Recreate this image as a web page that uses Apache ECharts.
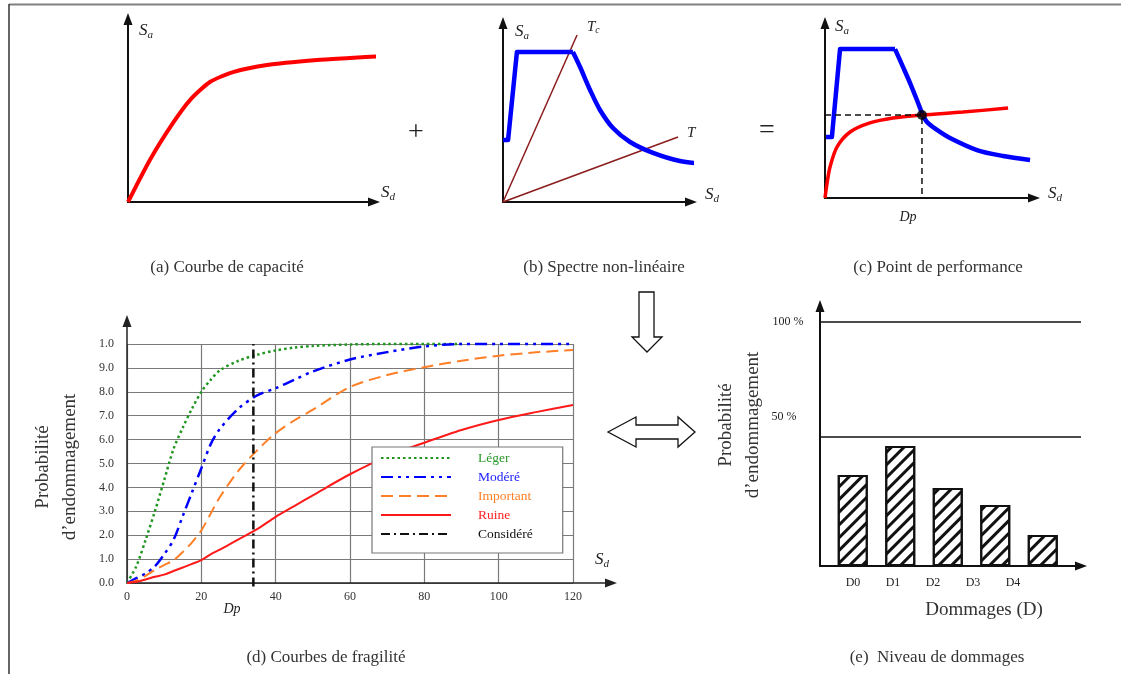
<!DOCTYPE html>
<html>
<head>
<meta charset="utf-8">
<script src="https://cdn.jsdelivr.net/npm/echarts@6/dist/echarts.min.js"></script>
<style>html,body{margin:0;padding:0;background:#fff}#main{width:1121px;height:674px}</style>
</head>
<body>
<div id="main"></div>
<script>
var SERIF = '"Liberation Serif", "DejaVu Serif", serif';

// (a) courbe de capacite (Sd, Sa in % of axis length)
var capSd = [0, 8.9, 18.3, 25.2, 33.3, 42.7, 56.5, 76.8, 90.2, 103.7];
var capSa = [0, 23, 43.2, 55.7, 65.6, 71, 74.9, 77.6, 78.7, 79.8];

// (b) spectre non-lineaire
var specPlateauSd = [0, 2.7, 7.4, 37.2];
var specPlateauSa = [34.6, 34.6, 83.8, 83.8];
var specDecaySd = [37.2, 41, 46.3, 51.6, 58.5, 67.6, 79.8, 94.1, 108.5];
var specDecaySa = [83.8, 75.4, 62.6, 51.4, 41.3, 33.5, 27.4, 22.9, 21.2];
var periodTc = [39.4, 93.3];
var periodT = [93.1, 36.3];

// (c) point de performance
var perfPlateauSd = [0.5, 3.3, 7.2, 33.5];
var perfPlateauSa = [34.9, 34.9, 85.1, 85.1];
var perfDecaySd = [33.5, 37.3, 40.7, 44, 46.4, 48.8, 53.6, 59.8, 72.7, 85.2, 98.1];
var perfDecaySa = [85.1, 74.9, 65.7, 56, 48.6, 43.4, 38.9, 34.3, 27.4, 24, 21.7];
var perfCapSd = [0, 1, 2.4, 5.7, 12, 21.5, 32.5, 46.4, 66, 87.6];
var perfCapSa = [0, 8.6, 17.7, 29.1, 37.7, 42.9, 45.7, 47.4, 49.1, 51.4];
var perfPoint = [46.4, 47.4];

// (d) courbes de fragilite
var fragSd = [0, 2.5, 5, 7.5, 10, 12.5, 15, 17.5, 20, 22.5, 25, 30, 35, 40, 45, 50, 60, 70, 80, 90, 100, 110, 120];
var leger = [0, 0.07, 0.18, 0.3, 0.43, 0.56, 0.65, 0.73, 0.8, 0.85, 0.89, 0.93, 0.955, 0.973, 0.985, 0.992, 0.998, 1, 1, 1, null, null, null];
var modere = [0, 0.02, 0.04, 0.07, 0.12, 0.18, 0.28, 0.38, 0.48, 0.58, 0.645, 0.73, 0.785, 0.815, 0.85, 0.885, 0.935, 0.966, 0.99, 1, 1, 1, 1];
var important = [0, 0.01, 0.03, 0.055, 0.075, 0.095, 0.13, 0.17, 0.22, 0.29, 0.36, 0.47, 0.555, 0.627, 0.68, 0.725, 0.82, 0.87, 0.903, 0.93, 0.951, 0.965, 0.975];
var ruine = [0, 0.005, 0.015, 0.026, 0.035, 0.05, 0.065, 0.08, 0.096, 0.12, 0.14, 0.183, 0.225, 0.277, 0.322, 0.367, 0.455, 0.53, 0.587, 0.64, 0.682, 0.715, 0.745];
var dpValue = 34;
var probTicks = ['0.0', '1.0', '2.0', '3.0', '4.0', '5.0', '6.0', '7.0', '8.0', '9.0', '1.0'];

// (e) niveau de dommages
var damageCats = ['D0', 'D1', 'D2', 'D3', 'D4'];
var damageProb = [37.3, 49.2, 32, 25, 12.7];
var levelLines = [100, 53];
var levelLabels = ['100 %', '50 %'];

function pairs(xs, ys) {
  var out = [];
  for (var i = 0; i < xs.length; i++) {
    if (ys[i] != null) out.push([xs[i], ys[i]]);
  }
  return out;
}

function arrowAxis(grid, max, color, width) {
  return {
    type: 'value', gridIndex: grid, min: 0, max: max,
    axisLine: { show: true, symbol: ['none', 'triangle'], symbolSize: [9, 12],
      lineStyle: { color: color || '#111', width: width || 2 } },
    axisTick: { show: false }, axisLabel: { show: false }, splitLine: { show: false }
  };
}
function hiddenAxis(grid, type, max, data) {
  var ax = {
    type: type, gridIndex: grid,
    axisLine: { show: false }, axisTick: { show: false }, axisLabel: { show: false }, splitLine: { show: false }
  };
  if (type == 'value') { ax.min = 0; ax.max = max; }
  if (data) ax.data = data;
  return ax;
}

function subText(x, y, main, sub, size) {
  size = size || 17;
  return {
    type: 'text', x: x, y: y, silent: true,
    style: {
      text: '{m|' + main + '}{s|' + (sub || '') + '}',
      verticalAlign: 'middle', fill: '#222',
      rich: {
        m: { fontSize: size, fontStyle: 'italic', fontFamily: SERIF, fill: '#222' },
        s: { fontSize: size * 0.65, fontStyle: 'italic', fontFamily: SERIF, fill: '#222', padding: [size * 0.45, 0, 0, 0] }
      }
    }
  };
}
function plainText(x, y, txt, size, extra) {
  var el = {
    type: 'text', x: x, y: y, silent: true,
    style: { text: txt, fontSize: size, fontFamily: SERIF, fill: '#333', align: 'center', verticalAlign: 'middle' }
  };
  if (extra) for (var k in extra) el.style[k] = extra[k];
  return el;
}
function vTitle(x, y, txt) {
  var el = plainText(x, y, txt, 19, { lineHeight: 27 });
  el.rotation = Math.PI / 2;
  return el;
}

var myChart = echarts.init(document.getElementById('main'));

var option = {
  animation: false,
  backgroundColor: '#fff',
  grid: [
    { left: 128, top: 19, width: 246, height: 183 },
    { left: 503, top: 23, width: 188, height: 179 },
    { left: 825, top: 23, width: 209, height: 175 },
    { left: 127, top: 321, width: 484, height: 262 },
    { left: 127, top: 344, width: 446, height: 239 },
    { left: 820, top: 306, width: 261, height: 260 },
    { left: 829, top: 306, width: 237.5, height: 260 },
    { left: 853, top: 306, width: 160, height: 260 }
  ],
  xAxis: [
    arrowAxis(0, 100),
    arrowAxis(1, 100),
    arrowAxis(2, 100),
    arrowAxis(3, 1, '#222', 1.5),
    {
      type: 'value', gridIndex: 4, min: 0, max: 120, interval: 20,
      axisLine: { show: false }, axisTick: { show: false },
      axisLabel: { margin: 8, fontSize: 12, color: '#333', fontFamily: SERIF },
      splitLine: { show: true, lineStyle: { color: '#7a7a7a', width: 1.2 } }
    },
    arrowAxis(5, 1),
    hiddenAxis(6, 'category', null, damageCats),
    {
      type: 'category', gridIndex: 7, data: damageCats, boundaryGap: false,
      axisLine: { show: false }, axisTick: { show: false }, splitLine: { show: false },
      axisLabel: { margin: 11, fontSize: 12, color: '#222', fontFamily: SERIF }
    }
  ],
  yAxis: [
    arrowAxis(0, 100),
    arrowAxis(1, 100),
    arrowAxis(2, 100),
    arrowAxis(3, 1, '#222', 1.5),
    {
      type: 'value', gridIndex: 4, min: 0, max: 1, interval: 0.1,
      axisLine: { show: false }, axisTick: { show: false },
      axisLabel: { margin: 13, fontSize: 12, color: '#333', fontFamily: SERIF,
        formatter: function (v, i) { return probTicks[i]; } },
      splitLine: { show: true, lineStyle: { color: '#7a7a7a', width: 1.2 } }
    },
    arrowAxis(5, 106.6),
    hiddenAxis(6, 'value', 106.6),
    hiddenAxis(7, 'value', 106.6)
  ],
  legend: {
    orient: 'vertical', left: 372, top: 447,
    itemWidth: 70, itemHeight: 10, itemGap: 5,
    padding: [4, 30, 12, 8],
    backgroundColor: '#fff', borderColor: '#777', borderWidth: 1.2,
    selectedMode: false,
    itemStyle: { opacity: 0 },
    textStyle: { fontFamily: SERIF, fontSize: 13.5, padding: [0, 0, 0, 22] },
    data: [
      { name: 'Léger', textStyle: { color: '#2a9a2a' } },
      { name: 'Modéré', textStyle: { color: '#2020ff' } },
      { name: 'Important', textStyle: { color: '#ff7f27' } },
      { name: 'Ruine', textStyle: { color: '#ff2020' } },
      { name: 'Considéré', textStyle: { color: '#111' } }
    ]
  },
  series: [
    // (a)
    { type: 'line', xAxisIndex: 0, yAxisIndex: 0, data: pairs(capSd, capSa), smooth: 0.22,
      symbol: 'none', clip: false, lineStyle: { color: '#ff0000', width: 4 } },
    // (b)
    { type: 'line', xAxisIndex: 1, yAxisIndex: 1, data: pairs([0, periodTc[0]], [0, periodTc[1]]), symbol: 'none',
      clip: false, lineStyle: { color: '#8b1c1c', width: 1.5 } },
    { type: 'line', xAxisIndex: 1, yAxisIndex: 1, data: pairs([0, periodT[0]], [0, periodT[1]]), symbol: 'none',
      clip: false, lineStyle: { color: '#8b1c1c', width: 1.5 } },
    { type: 'line', xAxisIndex: 1, yAxisIndex: 1, data: pairs(specPlateauSd, specPlateauSa), symbol: 'none',
      clip: false, lineStyle: { color: '#0000ff', width: 4.5, join: 'round' } },
    { type: 'line', xAxisIndex: 1, yAxisIndex: 1, data: pairs(specDecaySd, specDecaySa), symbol: 'none', smooth: 0.3,
      clip: false, lineStyle: { color: '#0000ff', width: 4.5 } },
    // (c)
    { type: 'line', xAxisIndex: 2, yAxisIndex: 2, data: pairs(perfPlateauSd, perfPlateauSa), symbol: 'none',
      clip: false, lineStyle: { color: '#0000ff', width: 4.5, join: 'round' } },
    { type: 'line', xAxisIndex: 2, yAxisIndex: 2, data: pairs(perfDecaySd, perfDecaySa), symbol: 'none', smooth: 0.3,
      clip: false, lineStyle: { color: '#0000ff', width: 4.5 } },
    { type: 'line', xAxisIndex: 2, yAxisIndex: 2, data: pairs(perfCapSd, perfCapSa), symbol: 'none', smooth: 0.3,
      clip: false, lineStyle: { color: '#ff0000', width: 3.5 } },
    { type: 'line', xAxisIndex: 2, yAxisIndex: 2,
      data: [[0, perfPoint[1]], perfPoint, [perfPoint[0], 0]], symbol: 'none',
      lineStyle: { color: '#111', width: 1.5, type: [6, 4] } },
    { type: 'scatter', xAxisIndex: 2, yAxisIndex: 2, data: [perfPoint], symbolSize: 10,
      itemStyle: { color: '#000' }, z: 5 },
    // (d)
    { name: 'Léger', type: 'line', xAxisIndex: 4, yAxisIndex: 4, data: pairs(fragSd, leger), symbol: 'none',
      smooth: 0.3, clip: false, color: '#1f961f',
      lineStyle: { color: '#1f961f', width: 2.5, type: [2.5, 3], cap: 'butt' } },
    { name: 'Modéré', type: 'line', xAxisIndex: 4, yAxisIndex: 4, data: pairs(fragSd, modere), symbol: 'none',
      smooth: 0.3, clip: false, color: '#0000ff',
      lineStyle: { color: '#0000ff', width: 2.5, type: [12, 5, 3, 5, 3, 5] } },
    { name: 'Important', type: 'line', xAxisIndex: 4, yAxisIndex: 4, data: pairs(fragSd, important), symbol: 'none',
      smooth: 0.3, clip: false, color: '#ff7f27',
      lineStyle: { color: '#ff7f27', width: 2, type: [12, 6] } },
    { name: 'Ruine', type: 'line', xAxisIndex: 4, yAxisIndex: 4, data: pairs(fragSd, ruine), symbol: 'none',
      smooth: 0.3, clip: false, color: '#ff1a1a',
      lineStyle: { color: '#ff1a1a', width: 2 } },
    { name: 'Considéré', type: 'line', xAxisIndex: 4, yAxisIndex: 4, data: [[dpValue, -0.015], [dpValue, 1]],
      symbol: 'none', clip: false, color: '#111',
      lineStyle: { color: '#111', width: 2.5, type: [9, 4, 2, 4] } },
    // (e)
    { type: 'line', xAxisIndex: 5, yAxisIndex: 5, data: [[0, 0]], symbol: 'none', silent: true,
      markLine: {
        silent: true, symbol: ['none', 'none'], label: { show: false },
        lineStyle: { color: '#111', width: 1.6, type: 'solid' },
        data: levelLines.map(function (v) { return { yAxis: v }; })
      } },
    { type: 'bar', xAxisIndex: 6, yAxisIndex: 6, data: damageProb, barWidth: 30,
      itemStyle: {
        color: '#fff', borderColor: '#111', borderWidth: 2,
        decal: { symbol: 'rect', symbolSize: 1, dashArrayX: [1, 0], dashArrayY: [3, 6],
          rotation: -Math.PI / 4, color: '#111' }
      } }
  ],
  graphic: [
    // frame
    { type: 'line', silent: true, shape: { x1: 9, y1: 4.5, x2: 1121, y2: 4.5 }, style: { stroke: '#808080', lineWidth: 2 } },
    { type: 'line', silent: true, shape: { x1: 9, y1: 4, x2: 9, y2: 674 }, style: { stroke: '#333', lineWidth: 1.5 } },
    // operators
    plainText(416, 133, '+', 28, { fill: '#222' }),
    plainText(767, 131, '=', 28, { fill: '#222' }),
    // axis labels
    subText(139, 31, 'S', 'a'),
    subText(381, 193, 'S', 'd'),
    subText(515, 32, 'S', 'a'),
    subText(587, 27, 'T', 'c', 15),
    subText(687, 133, 'T', '', 15),
    subText(705, 195, 'S', 'd'),
    subText(835, 27, 'S', 'a'),
    subText(1048, 194, 'S', 'd'),
    plainText(908, 217, 'Dp', 14, { fontStyle: 'italic', fill: '#222' }),
    subText(595, 560, 'S', 'd'),
    plainText(232, 609, 'Dp', 14, { fontStyle: 'italic', fill: '#222' }),
    // captions
    plainText(227, 268, '(a) Courbe de capacité', 17),
    plainText(604, 268, '(b) Spectre non-linéaire', 17),
    plainText(938, 268, '(c) Point de performance', 17),
    plainText(326, 658, '(d) Courbes de fragilité', 17),
    plainText(937, 658, '(e)  Niveau de dommages', 17),
    // axis titles
    vTitle(57, 467, 'Probabilité\nd’endommagement'),
    vTitle(740, 425, 'Probabilité\nd’endommagement'),
    plainText(984, 610, 'Dommages (D)', 19),
    // percent labels
    plainText(788, 322, levelLabels[0], 12, { fill: '#222' }),
    plainText(784, 417, levelLabels[1], 12, { fill: '#222' }),
    // arrows between panels
    { type: 'polygon', silent: true,
      shape: { points: [[639, 292], [654, 292], [654, 337], [662, 337], [647, 352], [632, 337], [639, 337]] },
      style: { fill: '#fff', stroke: '#111', lineWidth: 1.3 } },
    { type: 'polygon', silent: true,
      shape: { points: [[608, 432], [636, 417], [636, 425], [678, 425], [678, 417], [695, 432], [678, 447], [678, 439], [636, 439], [636, 447]] },
      style: { fill: '#fff', stroke: '#111', lineWidth: 1.3 } }
  ]
};

myChart.setOption(option);
window.addEventListener('resize', function () { myChart.resize(); });
</script>
</body>
</html>
